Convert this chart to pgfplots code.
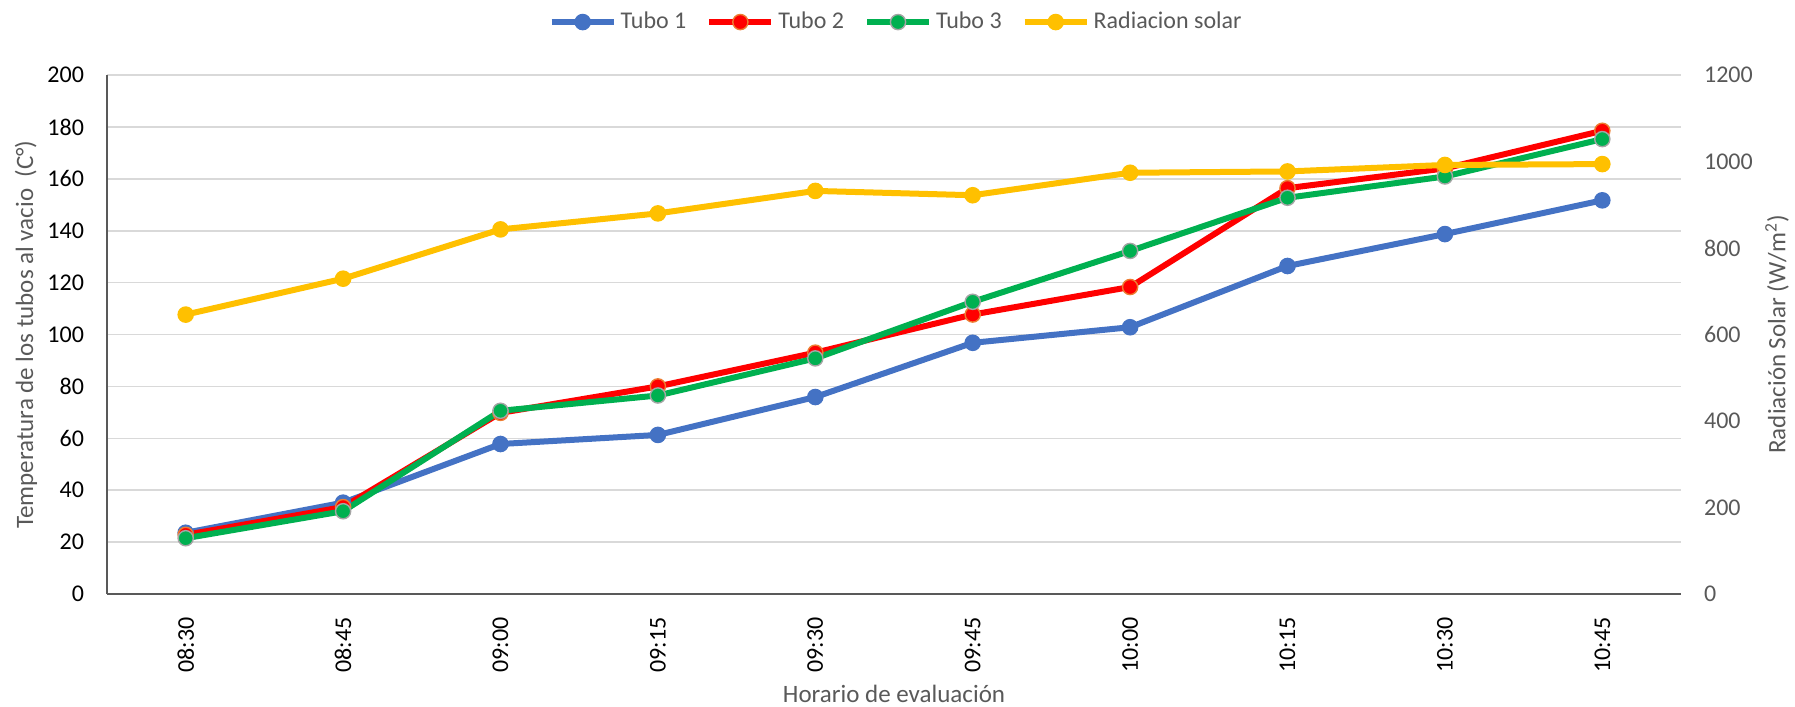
\documentclass[border=0pt]{standalone}
\usepackage{pgfplots}
\pgfplotsset{compat=1.18}
\usepackage{fontspec}
\setmainfont{Carlito}
\definecolor{cblue}{HTML}{4472C4}
\definecolor{cred}{HTML}{FF0000}
\definecolor{corange}{HTML}{ED7D31}
\definecolor{cgreen}{HTML}{00B050}
\definecolor{cgrayedge}{HTML}{A5A5A5}
\definecolor{cyellow}{HTML}{FFC000}
\definecolor{gridgray}{HTML}{D9D9D9}
\definecolor{textgray}{HTML}{595959}
\definecolor{axisgray}{HTML}{595959}
\pgfplotsset{
  tubo1/.style={cblue, line width=3pt, mark=*, mark size=3.8pt, mark options={fill=cblue, draw=cblue, line width=0.7pt}},
  tubo2/.style={cred, line width=3pt, mark=*, mark size=3.8pt, mark options={fill=cred, draw=corange, line width=0.7pt}},
  tubo3/.style={cgreen, line width=3pt, mark=*, mark size=3.8pt, mark options={fill=cgreen, draw=cgrayedge, line width=0.7pt}},
  rad/.style={cyellow, line width=3pt, mark=*, mark size=3.8pt, mark options={fill=cyellow, draw=cyellow, line width=0.7pt}},
}
\begin{document}
\begin{tikzpicture}
\useasboundingbox (-53.5pt,-56.5pt) rectangle (844pt,297pt);
\begin{axis}[
  at={(0,0)}, anchor=south west,
  scale only axis, width=787pt, height=259.5pt,
  xmin=-0.5, xmax=9.5, ymin=0, ymax=200,
  xtick={0,...,9},
  xticklabels={08:30,08:45,09:00,09:15,09:30,09:45,10:00,10:15,10:30,10:45},
  ytick={0,20,...,200},
  axis x line*=bottom, axis y line*=left,
  axis line style={draw=axisgray, line width=1pt, -},
  major tick length=0pt,
  ymajorgrids, grid style={gridgray, line width=0.8pt},
  tick label style={font=\fontsize{12}{14}\selectfont, black},
  xticklabel style={rotate=90, anchor=east, inner xsep=11.5pt},
  yticklabel style={anchor=east, xshift=-8pt},
  /pgf/number format/assume math mode=true,
  xlabel={Horario de evaluación},
  ylabel={Temperatura de los tubos al vacio\ \ (C°)},
  label style={font=\fontsize{12.5}{15}\selectfont, text=textgray},
  xlabel style={at={(axis description cs:0.5,-0.192)}, anchor=center},
  ylabel style={at={(axis description cs:-0.0515,0.5)}, anchor=center},
  legend style={at={(axis description cs:0.502,1.102)}, anchor=center, draw=none, fill=none,
    legend columns=-1, font=\fontsize{12}{14}\selectfont, text=textgray,
    /tikz/every even column/.append style={column sep=8pt}},
  legend image code/.code={\draw[mark repeat=2, mark phase=2, #1] plot coordinates {(0pt,0pt) (15.5pt,0pt) (31pt,0pt)};},
]
\addplot[tubo1] coordinates {(0,23.6) (1,35.2) (2,57.8) (3,61.3) (4,75.9) (5,96.8) (6,102.8) (7,126.4) (8,138.7) (9,151.7)};
\addlegendentry{Tubo 1}
\addplot[tubo2] coordinates {(0,22.8) (1,33.5) (2,69.8) (3,80.0) (4,93.0) (5,107.7) (6,118.3) (7,156.4) (8,164.0) (9,178.5)};
\addlegendentry{Tubo 2}
\addplot[tubo3] coordinates {(0,21.5) (1,31.9) (2,70.6) (3,76.5) (4,90.8) (5,112.6) (6,132.2) (7,152.7) (8,160.9) (9,175.3)};
\addlegendentry{Tubo 3}
\addlegendimage{rad}
\addlegendentry{Radiacion solar}
\end{axis}
\begin{axis}[
  at={(0,0)}, anchor=south west,
  scale only axis, width=787pt, height=259.5pt,
  xmin=-0.5, xmax=9.5, ymin=0, ymax=1200,
  ytick={0,200,...,1200},
  axis y line*=right, hide x axis,
  axis line style={draw=none},
  major tick length=0pt,
  tick label style={font=\fontsize{12}{14}\selectfont, text=textgray},
  yticklabel style={anchor=west, xshift=8pt},
  /pgf/number format/assume math mode=true,
  /pgf/number format/1000 sep={},
  ylabel={Radiación Solar (W/m\textsuperscript{2})},
  label style={font=\fontsize{12.5}{15}\selectfont, text=textgray},
  ylabel style={at={(axis description cs:1.061,0.5)}, anchor=center, rotate=0},
]
\addplot[rad] coordinates {(0,646) (1,729) (2,843) (3,880) (4,932) (5,922) (6,974) (7,977) (8,992) (9,994)};
\end{axis}
\end{tikzpicture}
\end{document}
